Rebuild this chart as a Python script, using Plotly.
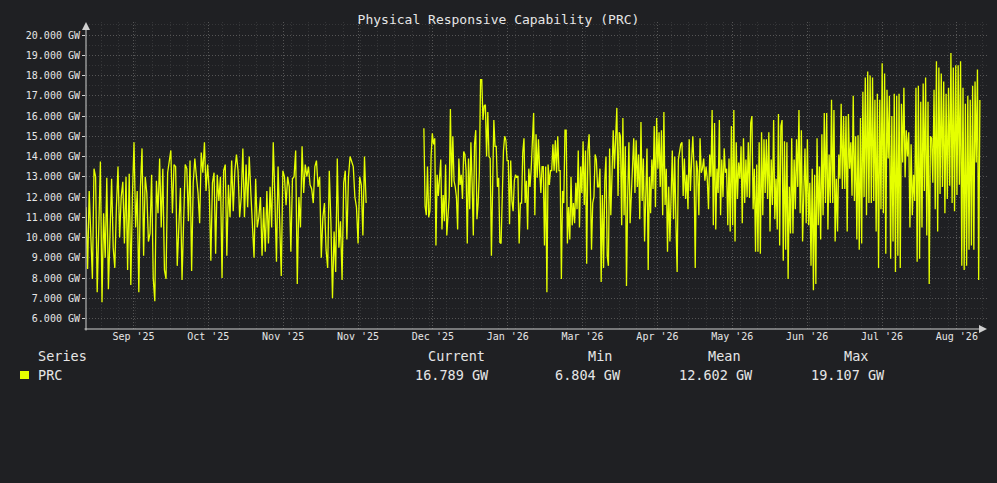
import numpy as np
import plotly.graph_objects as go

# ---------------- data ----------------
chart_title = "Physical Responsive Capability (PRC)"
series_name = "PRC"
unit = "GW"

# first block of samples (before the data gap)
seg1_values = [
    11.5, 8.44, 12.3, 10.5, 7.95, 13.4, 13.0, 7.3, 10.5, 13.75, 6.804, 11.2, 9.0, 12.95, 7.45, 10.8,
    12.9, 9.5, 8.5, 11.5, 13.5, 10.0, 12.0, 12.75, 9.7, 13.0, 8.4, 13.15, 7.65, 12.0, 14.7, 10.5,
    12.3, 7.3, 12.45, 14.4, 9.1, 13.0, 12.2, 9.8, 10.2, 13.1, 8.0, 6.85, 12.8, 11.2, 13.9, 10.5,
    13.4, 8.4, 7.95, 13.2, 13.8, 14.3, 11.2, 13.6, 13.5, 8.6, 10.5, 12.45, 7.9, 11.0, 13.6, 13.4,
    10.8, 13.8, 8.35, 12.7, 13.9, 13.0, 12.2, 10.7, 14.2, 13.2, 14.7, 12.3, 13.6, 12.3, 8.85, 12.7,
    13.2, 9.2,
    13.1, 11.8, 13.0, 8.0, 13.3, 13.6, 9.1, 12.6, 11.0, 13.8, 11.3, 13.3, 14.1, 13.3, 11.0, 12.0,
    14.4, 11.0, 13.6, 11.5, 14.0, 12.2, 10.2, 9.0, 12.9, 10.5, 11.0, 12.0, 9.1, 11.5, 9.3, 12.3,
    9.7, 12.5, 10.5, 14.7, 12.0, 8.8, 13.5, 10.2, 8.1, 13.3, 13.0, 11.6, 13.0, 12.5, 9.3, 12.9,
    13.0, 14.3, 7.7, 12.0, 10.5, 14.5, 12.2, 13.6, 13.0, 13.5, 12.6, 12.4, 11.7, 13.5, 13.8, 12.5,
    13.0, 9.0, 11.0, 11.7, 9.4, 8.5, 13.3, 10.8, 7.0, 10.3, 8.3, 13.9, 9.5, 10.8, 7.9, 12.7,
    13.3, 9.9, 13.0, 14.0, 13.7, 13.5, 12.0, 11.5, 9.7, 13.0, 12.6, 10.1, 14.0, 11.7,
]

# second block of samples (after the data gap)
seg2_values = [
    15.4, 11.55, 11.1, 13.5, 11.0, 11.3, 14.0, 15.15, 14.6, 14.9, 9.6, 13.1, 12.05, 13.0, 13.85, 10.4,
    12.1, 10.8, 13.6, 10.1, 11.0, 12.0, 16.35, 12.5, 15.0, 12.8, 12.5, 12.0, 10.4, 13.9, 12.6, 13.1,
    11.9, 14.25, 14.1, 13.3, 9.7, 13.9, 11.4, 14.7, 12.7, 10.1, 14.6, 15.3, 10.9, 11.7, 13.2, 17.8,
    17.8, 15.8, 16.5, 16.55, 14.0, 16.2, 14.0, 13.9, 9.1, 12.5, 15.8, 14.5, 14.5, 12.5, 12.95, 9.75,
    9.7, 12.0, 14.3, 15.0, 14.8, 13.8, 13.8, 10.65, 13.8, 11.8, 11.3, 12.8, 13.1, 12.95, 13.05, 9.7,
    11.7, 11.7, 14.2, 14.9, 11.7, 12.8, 10.4, 13.4, 12.5, 13.4, 15.3, 16.15, 11.1, 15.1, 12.95, 14.85,
    13.3, 12.2, 13.5, 13.5, 9.6, 13.5, 7.3, 13.6, 12.6, 13.3,
    13.3, 14.6, 13.3, 14.8, 13.2, 15.0, 13.3, 13.3, 7.95, 12.3, 11.7, 15.3, 15.3, 9.7, 11.5, 9.9,
    13.0, 10.6, 11.7, 10.7, 12.7, 11.4, 14.3, 10.5, 13.5, 12.2, 14.75, 11.6, 14.3, 8.7, 14.3, 15.1,
    12.7, 9.4, 11.7, 12.0, 14.1, 13.85, 12.5, 12.5, 13.4, 7.8, 12.1, 8.5, 12.8, 14.0, 9.1, 8.6,
    14.4, 11.1, 13.1, 15.3, 13.4, 15.2, 16.4, 12.05, 15.2, 15.0, 10.6, 15.9, 11.1, 14.5, 7.6, 12.05,
    14.7, 10.7, 11.9, 13.4, 14.9, 12.2, 14.8, 12.5, 14.1, 10.9, 15.7, 11.8, 13.9, 9.8, 12.7, 14.4,
    8.4, 13.0, 11.2, 13.85, 12.4, 15.5, 11.5, 15.9, 13.4, 15.2, 12.5, 15.3, 11.1, 16.2, 11.6, 13.4,
    9.3, 12.5, 9.8, 12.6, 14.3, 10.9, 14.0, 10.7, 8.3, 13.85, 14.2, 14.6, 14.7, 12.05, 13.9, 11.9,
    13.1, 11.4, 14.85, 12.3, 13.8, 15.0, 13.4, 8.5, 13.8, 13.3, 11.1, 14.9, 13.2, 13.4,
    13.9, 12.8, 13.5, 12.87, 11.4, 14.1, 13.0, 16.3, 10.6, 15.65, 10.4, 13.4, 12.2, 15.8, 11.1, 13.85,
    12.0, 14.4, 13.2, 13.4, 10.6, 13.9, 10.3, 15.5, 10.6, 16.3, 9.8, 14.7, 11.9, 13.7, 12.9, 14.5,
    10.7, 14.9, 11.7, 13.85, 12.0, 14.7, 11.95, 15.65, 16.0, 11.4, 13.4, 9.3, 13.6, 9.3, 14.7, 9.2,
    15.2, 11.1, 14.85, 12.2, 14.85, 11.9, 15.2, 10.3, 13.85, 11.6, 15.8, 10.9, 12.9, 10.4, 16.1, 9.6,
    15.5, 15.8, 8.85, 14.75, 9.4, 14.7, 7.95, 12.5, 10.2, 14.9, 10.2, 13.85, 11.4, 14.85, 12.5, 16.3,
    11.2, 15.3, 9.8, 12.9, 14.4, 10.7, 14.85, 10.6, 12.7, 8.6, 13.4, 7.4, 13.1, 7.7, 14.9, 10.6,
    13.5, 9.9, 15.1, 11.1, 16.15, 11.7, 16.15, 10.4, 14.1, 11.7, 16.8, 11.7, 16.3, 9.8, 12.9, 10.3,
    14.1, 12.9, 16.6, 12.4, 16.0,
    12.4, 16.0, 10.3, 16.1, 13.4, 14.7, 12.06, 17.0, 11.8, 15.0, 9.9, 15.05, 9.4, 15.9, 9.7, 17.2,
    12.0, 17.9, 11.1, 18.2, 11.7, 18.0, 11.7, 17.9, 11.8, 16.8, 10.3, 17.1, 8.5, 16.8, 11.4, 18.6,
    11.2, 18.1, 9.2, 17.3, 13.9, 17.0, 8.95, 16.0, 9.8, 17.1, 8.3, 17.0, 9.1, 17.1, 8.5, 16.6,
    13.7, 17.4, 12.97, 15.3, 14.0, 15.2, 10.5, 14.6, 11.1, 13.1, 11.8, 17.4, 8.8, 17.5, 8.95, 16.7,
    10.5, 17.6, 12.3, 17.9, 10.1, 16.7, 7.7, 15.0, 14.9, 12.7, 17.3, 11.4, 18.7, 10.3, 18.4, 12.15,
    18.1, 12.5, 17.7, 11.2, 17.1, 11.9, 17.4, 12.55, 19.107, 11.7, 18.4, 11.3, 18.5, 12.1, 18.5, 12.6,
    18.7, 8.6, 17.4, 8.4, 16.6, 8.6, 17.0, 9.4, 16.8, 9.6, 17.5, 9.4, 17.7, 13.7, 18.3, 7.9,
    16.789,
]

# time spans (days from the start of the axis)
seg1_span_days = (0.0, 113.9)
seg2_span_days = (137.4, 363.5)
axis_span_days = (0.0, 366.4)

x_tick_labels = ["Sep '25", "Oct '25", "Nov '25", "Nov '25", "Dec '25", "Jan '26",
                 "Mar '26", "Apr '26", "May '26", "Jun '26", "Jul '26", "Aug '26"]
x_tick_first_day = 19.3
x_tick_step_days = 30.44
x_minor_first_day = 6.1
x_minor_step_days = 7.03

y_tick_values = list(range(6, 21))
y_range = (5.4815, 20.642)

summary_headers = ["Current", "Min", "Mean", "Max"]
summary_values = [16.789, 6.804, 12.602, 19.107]

# ---------------- styling ----------------
BG = "#1f2023"
FG = "#e6e6e6"
AXIS = "#d0d0d0"
LINE = "#e5ff00"
GRID_MAJOR = "#565656"
GRID_MINOR = "#353638"
MONO = "DejaVu Sans Mono"

W, H = 997, 483
plot_left, plot_right, plot_top, plot_bottom = 86, 987, 22, 329


def px_x(px):
    return (px - plot_left) / (plot_right - plot_left)


def px_y(py):
    return (plot_bottom - py) / (plot_bottom - plot_top)


# ---------------- build series ----------------
x1 = np.linspace(seg1_span_days[0], seg1_span_days[1], len(seg1_values))
x2 = np.linspace(seg2_span_days[0], seg2_span_days[1], len(seg2_values))
gap_x = (seg1_span_days[1] + seg2_span_days[0]) / 2
xs = list(x1) + [gap_x] + list(x2)
ys = list(seg1_values) + [None] + list(seg2_values)

x_tick_vals = [x_tick_first_day + i * x_tick_step_days for i in range(len(x_tick_labels))]

fig = go.Figure()
fig.add_trace(go.Scatter(
    x=xs, y=ys, mode="lines", name=series_name,
    line=dict(color=LINE, width=1.3),
    connectgaps=False, showlegend=False,
))

fig.update_layout(
    width=W, height=H,
    paper_bgcolor=BG, plot_bgcolor=BG,
    margin=dict(l=plot_left, r=W - plot_right, t=plot_top, b=H - plot_bottom),
    font=dict(family=MONO, color=FG, size=10),
    title=dict(text=chart_title, x=0.5, xref="container", xanchor="center",
               y=1 - 19 / H, yref="container", yanchor="middle",
               font=dict(family=MONO, size=13, color=FG)),
    showlegend=False,
)

fig.update_xaxes(
    range=list(axis_span_days),
    tickmode="array", tickvals=x_tick_vals, ticktext=x_tick_labels,
    ticks="", tickfont=dict(family=MONO, size=10, color=FG),
    showgrid=True, gridcolor=GRID_MAJOR, griddash="1px,2px", gridwidth=1,
    minor=dict(tickmode="linear", tick0=x_minor_first_day, dtick=x_minor_step_days,
               showgrid=True, gridcolor=GRID_MINOR, griddash="1px,2px", gridwidth=1, ticks=""),
    zeroline=False, showline=False,
)

fig.update_yaxes(
    range=list(y_range),
    tickmode="array", tickvals=y_tick_values,
    ticktext=[f"{v:.3f} {unit}" for v in y_tick_values],
    ticks="outside", ticklen=3, tickcolor=AXIS, tickwidth=1,
    tickfont=dict(family=MONO, size=10, color=FG),
    showgrid=True, gridcolor=GRID_MAJOR, griddash="1px,2px", gridwidth=1,
    minor=dict(tickmode="linear", tick0=5.5, dtick=0.5,
               showgrid=True, gridcolor=GRID_MINOR, griddash="1px,2px", gridwidth=1, ticks=""),
    zeroline=False, showline=False,
)

# axis lines with arrow heads
fig.add_annotation(xref="paper", yref="paper", x=0, y=1, ax=0, ay=(plot_bottom - plot_top) + 3,
                   axref="pixel", ayref="pixel", text="", showarrow=True,
                   arrowhead=2, arrowsize=1.6, arrowwidth=1, arrowcolor=AXIS, standoff=0)
fig.add_annotation(xref="paper", yref="paper", x=1, y=0, ax=-(plot_right - plot_left) - 3, ay=0,
                   axref="pixel", ayref="pixel", text="", showarrow=True,
                   arrowhead=2, arrowsize=1.6, arrowwidth=1, arrowcolor=AXIS, standoff=0)

# summary table below the plot
header_y = px_y(356)
row_y = px_y(374.5)
fig.add_annotation(xref="paper", yref="paper", x=px_x(36), y=header_y, text="Series",
                   showarrow=False, xanchor="left", yanchor="middle",
                   font=dict(family=MONO, size=13.5, color=FG))
fig.add_annotation(xref="paper", yref="paper", x=px_x(36), y=row_y, text=series_name,
                   showarrow=False, xanchor="left", yanchor="middle",
                   font=dict(family=MONO, size=13.5, color=FG))
header_centers = [456, 600, 724, 856]
value_centers = [452, 588, 716, 848]
for hdr, hx, val, vx in zip(summary_headers, header_centers, summary_values, value_centers):
    fig.add_annotation(xref="paper", yref="paper", x=px_x(hx), y=header_y, text=hdr,
                       showarrow=False, xanchor="center", yanchor="middle",
                       font=dict(family=MONO, size=13.5, color=FG))
    fig.add_annotation(xref="paper", yref="paper", x=px_x(vx), y=row_y, text=f"{val:.3f} {unit}",
                       showarrow=False, xanchor="center", yanchor="middle",
                       font=dict(family=MONO, size=13.5, color=FG))

fig.add_shape(type="rect", xref="paper", yref="paper",
              x0=px_x(20), x1=px_x(29), y0=px_y(379), y1=px_y(371),
              fillcolor=LINE, line=dict(width=0))

fig.write_html(
    "out.html",
    config={"displayModeBar": False, "staticPlot": True},
    post_script=(
        "document.documentElement.style.margin='0';"
        "document.body.style.margin='0';"
        "document.body.style.padding='0';"
        "document.body.style.overflow='hidden';"
        "document.body.style.background='" + BG + "';"
    ),
)
